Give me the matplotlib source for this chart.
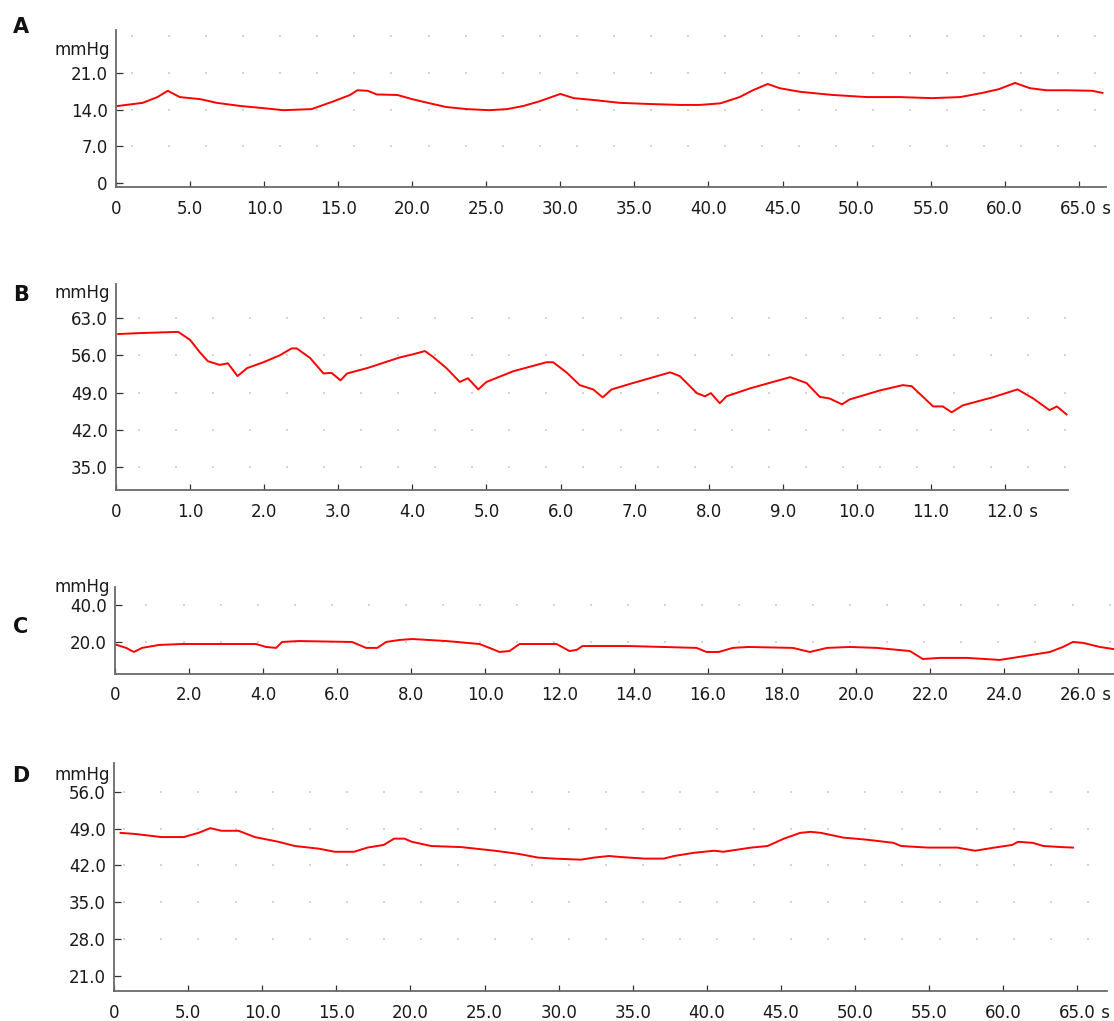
import numpy as np
import matplotlib
matplotlib.use("Agg")
import matplotlib.pyplot as plt

# panel A, 0-67 s
a_t = [0.13, 1.8, 2.8, 3.5, 4.3, 5.7, 6.8, 8.4, 9.9, 11.3, 13.2, 14.6, 15.8, 16.3, 17.0, 17.6,
       19.0, 20.0, 21.2, 22.3, 23.7, 25.2, 26.4, 27.5, 28.6, 30.0, 30.9, 32.4, 34.0, 35.8, 38.1,
       39.4, 40.8, 42.1, 43.0, 44.0, 44.8, 46.2, 48.4, 50.7, 52.9, 55.1, 57.0, 58.5, 59.6, 60.7,
       61.7, 62.8, 64.2, 65.9, 66.6]
a_v = [14.7, 15.3, 16.4, 17.6, 16.4, 16.0, 15.3, 14.7, 14.3, 13.9, 14.1, 15.5, 16.8, 17.7, 17.6, 16.9,
       16.8, 16.0, 15.2, 14.5, 14.1, 13.9, 14.1, 14.7, 15.6, 17.0, 16.2, 15.8, 15.3, 15.1, 14.9,
       14.9, 15.2, 16.4, 17.7, 18.9, 18.1, 17.4, 16.8, 16.4, 16.4, 16.2, 16.4, 17.2, 17.9, 19.1,
       18.1, 17.7, 17.7, 17.6, 17.2]

# panel B, 0-13 s
b_t = [0.03, 0.36, 0.84, 1.0, 1.13, 1.24, 1.4, 1.51, 1.64, 1.77, 1.99, 2.21, 2.37, 2.44, 2.62, 2.8,
       2.91, 3.03, 3.12, 3.39, 3.83, 4.01, 4.17, 4.28, 4.46, 4.64, 4.75, 4.89, 5.0, 5.36, 5.81,
       5.9, 6.08, 6.26, 6.44, 6.57, 6.69, 6.98, 7.48, 7.61, 7.84, 7.95, 8.03, 8.15, 8.24, 8.56,
       9.1, 9.32, 9.5, 9.63, 9.8, 9.9, 10.31, 10.62, 10.74, 11.03, 11.16, 11.28, 11.43, 11.83,
       12.17, 12.38, 12.6, 12.7, 12.83]
b_v = [60.0, 60.2, 60.4, 58.9, 56.6, 54.9, 54.2, 54.5, 52.1, 53.6, 54.7, 56.0, 57.3, 57.3, 55.5, 52.6,
       52.7, 51.3, 52.6, 53.6, 55.6, 56.2, 56.8, 55.7, 53.6, 51.0, 51.7, 49.6, 51.0, 53.0, 54.7,
       54.7, 52.8, 50.4, 49.6, 48.1, 49.6, 50.8, 52.8, 52.1, 48.9, 48.3, 48.9, 47.0, 48.3, 49.8,
       51.9, 50.8, 48.2, 47.9, 46.8, 47.7, 49.4, 50.4, 50.2, 46.4, 46.4, 45.3, 46.6, 48.1,
       49.6, 47.9, 45.7, 46.4, 44.9]

# panel C, 0-27 s
c_t = [0.05, 0.3, 0.51, 0.73, 1.19, 1.81, 3.81, 4.08, 4.35, 4.51, 4.97, 6.4, 6.78, 7.08, 7.32, 7.68,
       8.03, 8.95, 9.84, 10.11, 10.38, 10.65, 10.92, 11.65, 11.92, 12.27, 12.46, 12.62, 13.89,
       15.7, 15.97, 16.3, 16.68, 17.1, 18.3, 18.76, 19.22, 19.84, 20.57, 21.46, 21.81, 22.27,
       23.0, 23.89, 24.24, 25.24, 25.59, 25.86, 26.14, 26.59, 26.95]
c_v = [18.4, 16.8, 14.6, 16.8, 18.4, 18.9, 18.9, 17.3, 16.8, 20.0, 20.5, 20.0, 16.8, 16.8, 20.0, 21.1,
       21.6, 20.5, 18.9, 16.8, 14.6, 15.1, 18.9, 18.9, 18.9, 15.1, 15.7, 17.8, 17.8,
       16.8, 14.6, 14.6, 16.8, 17.3, 16.8, 14.6, 16.8, 17.3, 16.8, 15.1, 10.8, 11.4,
       11.4, 10.3, 11.4, 14.6, 17.3, 20.0, 19.5, 17.3, 16.2]

# panel D, 0-67 s
d_t = [0.44, 1.4, 3.2, 4.7, 5.7, 6.5, 7.24, 8.4, 9.5, 11.1, 12.2, 13.8, 14.9, 16.2, 17.1, 18.2,
       18.9, 19.6, 20.1, 21.4, 23.4, 25.7, 27.3, 28.6, 29.7, 31.5, 32.4, 33.4, 34.2, 35.8, 37.1,
       37.8, 39.1, 40.5, 41.1, 43.0, 44.1, 45.2, 46.3, 47.0, 47.7, 49.2, 50.8, 52.6, 53.1, 54.9,
       56.9, 58.1, 59.4, 60.6, 61.0, 62.0, 62.7, 63.9, 64.7]
d_v = [48.2, 48.0, 47.4, 47.4, 48.2, 49.1, 48.6, 48.6, 47.4, 46.5, 45.7, 45.2, 44.6, 44.6, 45.4, 45.9,
       47.1, 47.1, 46.5, 45.7, 45.5, 44.8, 44.2, 43.5, 43.3, 43.1, 43.5, 43.8, 43.6, 43.3, 43.3,
       43.8, 44.4, 44.8, 44.6, 45.4, 45.7, 47.1, 48.2, 48.4, 48.2, 47.3, 46.9, 46.3, 45.7, 45.4,
       45.4, 44.8, 45.4, 45.9, 46.5, 46.3, 45.7, 45.5, 45.4]

a_yticks = [0, 7, 14, 21]
b_yticks = [35, 42, 49, 56, 63]
c_yticks = [20, 40]
d_yticks = [21, 28, 35, 42, 49, 56]
a_xticks = list(range(0, 70, 5))
b_xticks = list(range(0, 13))
c_xticks = list(range(0, 28, 2))
d_xticks = list(range(0, 70, 5))

FS = 12
W, H = 1114, 1021


def fmt(v):
    return "0" if v == 0 else "%.1f" % v


def panel(box, t, v, xlim, ylim, xticks, yticks, letter, letter_y, unit_y,
          dot_x, dot_rows):
    left, right, top, bottom = box
    ax = plt.gcf().add_axes([left / W, 1 - bottom / H, (right - left) / W, (bottom - top) / H])

    # background dot grid
    gx, gy = np.meshgrid(dot_x, dot_rows)
    ax.scatter(gx.ravel(), gy.ravel(), s=1.4, marker="s", color="#d4d4d4", linewidths=0, zorder=1)

    ax.plot(t, v, color="#ff0000", lw=1.4, zorder=3)

    ax.set_xlim(*xlim)
    ax.set_ylim(*ylim)
    ax.set_xticks(xticks)
    ax.set_xticklabels([fmt(x) for x in xticks])
    ax.set_yticks(yticks)
    ax.set_yticklabels([fmt(y) for y in yticks])
    for s in ["top", "right"]:
        ax.spines[s].set_visible(False)
    for s in ["left", "bottom"]:
        ax.spines[s].set_color("#6a6a6a")
        ax.spines[s].set_linewidth(1.3)
    ax.tick_params(axis="x", direction="in", length=4.5, width=0.9, color="#333333",
                   pad=9, labelsize=FS, labelcolor="#1a1a1a")
    ax.tick_params(axis="y", direction="in", length=5, width=0.9, color="#333333",
                   pad=6, labelsize=FS, labelcolor="#1a1a1a")

    # unit after the last x label
    half = 2.226 * FS / 2
    ax.annotate(" s", xy=(xticks[-1], 0), xycoords=("data", "axes fraction"),
                xytext=(half, -9), textcoords="offset points", ha="left", va="top",
                fontsize=FS, color="#1a1a1a")

    fig = plt.gcf()
    fig.text(110 / W, 1 - unit_y / H, "mmHg", ha="right", va="center", fontsize=FS, color="#1a1a1a")
    fig.text(21 / W, 1 - letter_y / H, letter, ha="center", va="center", fontsize=15,
             fontweight="bold", color="#111111")
    return ax


fig = plt.figure(figsize=(W / 100, H / 100), dpi=100)
fig.patch.set_facecolor("white")

panel((116, 1106, 30, 187), a_t, a_v, (0.08, 66.84), (-0.76, 29.2), a_xticks, a_yticks,
      "A", 27, 50, np.arange(1.1, 66.8, 2.5), [7, 14, 21, 28])
panel((116, 1068, 284, 490), b_t, b_v, (0.016, 12.85), (30.7, 69.4), b_xticks, b_yticks,
      "B", 295, 293, np.arange(0.31, 12.85, 0.5), [35, 42, 49, 56, 63])
panel((115, 1114, 587, 674), c_t, c_v, (0.0, 26.97), (2.7, 49.7), c_xticks, c_yticks,
      "C", 627, 587, np.arange(0.85, 26.97, 1.0), [20, 40])
panel((114, 1107, 763, 991), d_t, d_v, (0.12, 67.0), (18.1, 61.5), d_xticks, d_yticks,
      "D", 776, 775, np.arange(0.7, 67.0, 2.5), [28, 35, 42, 49, 56])

fig.savefig("out.png", dpi=100, facecolor="white")
